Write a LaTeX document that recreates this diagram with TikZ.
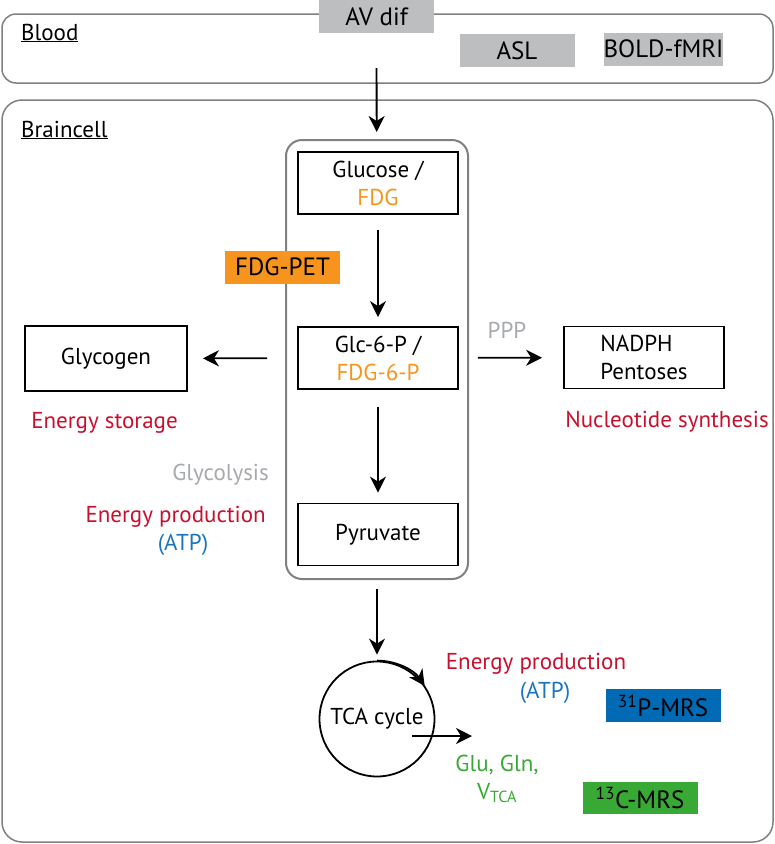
\documentclass[tikz,border=0pt]{standalone}
\usepackage{fontspec}
\setmainfont{PT Sans}
\usetikzlibrary{arrows.meta}

\definecolor{fdgorange}{RGB}{247,148,29}
\definecolor{funcred}{RGB}{200,16,46}
\definecolor{atpblue}{RGB}{28,117,188}
\definecolor{mrsblue}{RGB}{0,106,180}
\definecolor{mrsgreen}{RGB}{57,169,53}
\definecolor{pathgray}{RGB}{167,169,172}
\definecolor{methgray}{RGB}{188,190,192}
\definecolor{compgray}{RGB}{128,128,128}

\begin{document}
\begin{tikzpicture}[> = {Stealth[length=16pt,width=16pt,inset=5pt]}, x = 1pt, y = 1pt,
	every node/.style = {font = \fontsize{23}{28}\selectfont, inner sep = 0pt},
	compart/.style = {draw = compgray, line width = 1.5pt, rounded corners = 14pt},
	molbox/.style = {draw, line width = 1.8pt, minimum width = 160pt, minimum height = 62pt, align = center},
	methbox/.style = {fill = #1, minimum width = 115pt, minimum height = 33pt, font = \fontsize{25}{28}\selectfont},
	flow/.style = {->, line width = 1.8pt}]

	\useasboundingbox (0, 0) rectangle (775, -844);

	% Compartments

	\draw [compart] (2, -14) rectangle (773, -83);
	\draw [compart, rounded corners = 20pt] (2, -100) rectangle (773, -842);
	\node [anchor = west] (blood) at (21, -33) {\underline{Blood}};
	\node [anchor = west] (brain) at (21, -130) {\underline{Braincell}};

	% Methods in blood

	\node [methbox = methgray] (avdif) at (376.5, -16.5) {AV dif};
	\node [methbox = methgray] (asl) at (517, -50.5) {ASL};
	\node [methbox = methgray, minimum width = 119pt] (bold) at (663.5, -49) {BOLD-fMRI};

	% Glycolysis pathway

	\node [draw = compgray, line width = 2pt, rounded corners = 16pt,
		minimum width = 182pt, minimum height = 439pt] (glyco) at (377, -359.5) {};
	\node [molbox] (glucose) at (378, -183) {Glucose /\\\textcolor{fdgorange}{FDG}};
	\node [molbox] (glc) at (378, -358) {Glc-6-P /\\\textcolor{fdgorange}{FDG-6-P}};
	\node [molbox] (pyruvate) at (378, -534.5) {Pyruvate};
	\node [molbox, minimum width = 162pt, minimum height = 65pt] (glycogen) at (106, -358.5) {Glycogen};
	\node [molbox, align = left] (nadph) at (644, -357.5) {NADPH\\Pentoses};
	\node [methbox = fdgorange] (fdgpet) at (282.5, -267) {FDG-PET};

	\draw [flow, shorten <= 35pt, shorten >= 7pt] (avdif) -- (glyco);
	\draw [flow, shorten <= 15pt, shorten >= 9pt] (glucose) -- (glc);
	\draw [flow, shorten <= 17pt, shorten >= 10pt] (glc) -- (pyruvate);
	\draw [flow, shorten <= 30pt, shorten >= 15pt] (glc) -- (glycogen);
	\draw [flow, shorten <= 19pt, shorten >= 21pt] (glc) -- (nadph);

	\node [text = pathgray] (ppp) at (507, -330) {PPP};
	\node [text = pathgray, anchor = east] (glylab) at (269, -475) {Glycolysis};
	\node [text = funcred] (storage) at (104.5, -423) {Energy storage};
	\node [text = funcred] (nucleo) at (667, -422) {Nucleotide synthesis};
	\node [text = funcred, anchor = east] (prodleft) at (266, -517) {Energy production};
	\node [text = atpblue] (atpleft) at (183, -545) {(ATP)};

	% TCA cycle

	\node [draw, circle, line width = 1.8pt, minimum size = 115pt] (tca) at (377, -719) {TCA cycle};
	\draw [flow, shorten <= 9pt, shorten >= 6pt] (glyco) -- (tca);
	\draw [flow] (tca.90) arc (90 : 34 : 57.5);
	\coordinate (tcaout) at (472, -736);
	\draw [flow] ([xshift = 35pt, yshift = -17pt] tca.center) -- (tcaout);

	\node [text = funcred] (prodright) at (536, -664) {Energy production};
	\node [text = atpblue] (atpright) at (545, -693) {(ATP)};
	\node [text = mrsgreen, align = center] (glu) at (497, -779)
		{Glu, Gln,\\V\textsubscript{TCA}};

	\node [methbox = mrsblue] (p31) at (663, -705.5) {\textsuperscript{31}P-MRS};
	\node [methbox = mrsgreen, minimum height = 32pt] (c13) at (640, -798) {\textsuperscript{13}C-MRS};

\end{tikzpicture}
\end{document}
